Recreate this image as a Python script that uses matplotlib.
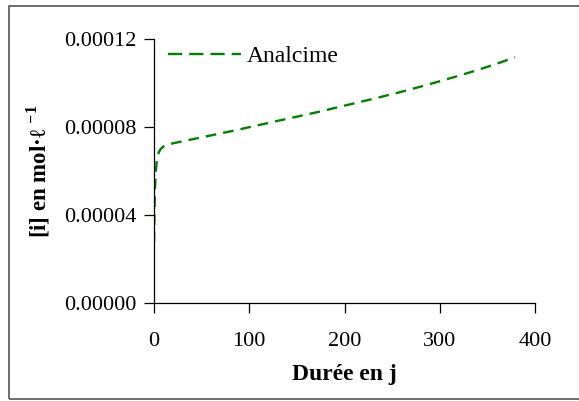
import matplotlib
matplotlib.use("Agg")
import matplotlib.pyplot as plt
from matplotlib.patches import Rectangle

plt.rcParams['font.family'] = ['Liberation Serif', 'DejaVu Serif']
plt.rcParams['mathtext.fontset'] = 'custom'
plt.rcParams['mathtext.rm'] = 'Liberation Serif'
plt.rcParams['mathtext.bf'] = 'Liberation Serif:bold'

days = [0, 0.5, 1, 2, 3, 5, 7, 10, 17, 30, 50, 80, 100, 130, 150, 174, 200, 230,
        258, 282, 300, 320, 342, 360, 379]
conc = [0.0000275, 0.000042, 0.000052, 0.000060, 0.000065, 0.0000685, 0.000070, 0.0000712,
        0.0000723, 0.0000735, 0.0000753, 0.000078, 0.0000799, 0.0000828, 0.0000847, 0.000087,
        0.0000897, 0.0000928, 0.0000958, 0.0000986, 0.0001008, 0.0001033, 0.0001062,
        0.0001088, 0.0001117]
series_label = "Analcime"
xticks = [0, 100, 200, 300, 400]
yticks = [0.0, 0.00004, 0.00008, 0.00012]
ytick_labels = ["0.00000", "0.00004", "0.00008", "0.00012"]

W, H = 579, 401
fig = plt.figure(figsize=(W / 100, H / 100), dpi=100)
fig.patches.append(Rectangle((9 / W, 1 - 399 / H), 1.0, (399 - 6) / H, transform=fig.transFigure,
                             fill=False, edgecolor='#555555', linewidth=1.2))
ax = fig.add_axes([154 / W, 1 - 303 / H, (535 - 154) / W, (303 - 39) / H])

line, = ax.plot(days, conc, color='#008000', linewidth=1.7, dashes=(4.5, 3), label=series_label)

ax.set_xlim(0, 400)
ax.set_ylim(0, 0.00012)
ax.set_xticks(xticks)
ax.set_xticklabels([str(t) for t in xticks])
ax.set_yticks(yticks)
ax.set_yticklabels(ytick_labels)
for s in ['top', 'right']:
    ax.spines[s].set_visible(False)
for s in ['left', 'bottom']:
    ax.spines[s].set_linewidth(0.9)
ax.tick_params(direction='out', length=7, width=0.9, labelsize=16, pad=5.5)
ax.tick_params(axis='x', pad=14)

ax.set_xlabel('Durée en j', fontsize=17, fontweight='bold', labelpad=9)
ax.set_ylabel(r'[i] en mol·ℓ $^{\mathbf{-1}}$', fontsize=16.5, fontweight='bold', labelpad=9)

leg = ax.legend(loc='upper left', bbox_to_anchor=(0.0, 1.03), frameon=False, fontsize=17,
                handlelength=3.1, handletextpad=0.25, borderaxespad=0.3, borderpad=0.3)
for h in leg.get_lines():
    h.set_dashes((6, 3))

fig.savefig('out.png', dpi=100)
